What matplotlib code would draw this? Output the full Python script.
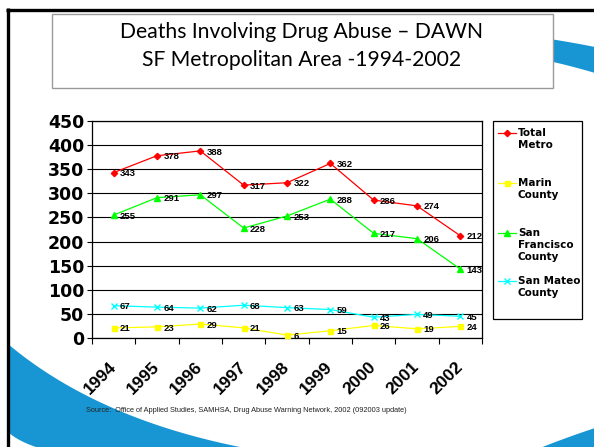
import numpy as np
import matplotlib
matplotlib.use("Agg")
import matplotlib.pyplot as plt
from matplotlib.lines import Line2D
from matplotlib.patches import Rectangle, Polygon
from matplotlib.transforms import ScaledTranslation

# ---------------- data ----------------
years = ["1994", "1995", "1996", "1997", "1998", "1999", "2000", "2001", "2002"]
total_metro = [343, 378, 388, 317, 322, 362, 286, 274, 212]
marin = [21, 23, 29, 21, 6, 15, 26, 19, 24]
san_francisco = [255, 291, 297, 228, 253, 288, 217, 206, 143]
san_mateo = [67, 64, 62, 68, 63, 59, 43, 49, 45]
series_names = ["Total\nMetro", "Marin\nCounty", "San\nFrancisco\nCounty", "San Mateo\nCounty"]
y_ticks = [0, 50, 100, 150, 200, 250, 300, 350, 400, 450]
title_lines = ["Deaths Involving Drug Abuse \u2013 DAWN", "SF Metropolitan Area -1994-2002"]
source_text = "Source:  Office of Applied Studies, SAMHSA, Drug Abuse Warning Network, 2002 (092003 update)"

W, H = 594, 447
DPI = 100
fig = plt.figure(figsize=(W / DPI, H / DPI), dpi=DPI)
fig.patch.set_facecolor("white")

# ---------- background / decoration axes in pixel coords ----------
bg = fig.add_axes([0, 0, 1, 1], zorder=0)
bg.set_xlim(0, W)
bg.set_ylim(H, 0)
bg.axis("off")

BLUE = "#1796D3"

def qbez(p0, c, p2, n=60):
    t = np.linspace(0, 1, n)[:, None]
    p0, c, p2 = map(np.asarray, (p0, c, p2))
    return (1 - t) ** 2 * p0 + 2 * (1 - t) * t * c + t ** 2 * p2

# bottom-left band
top_edge = qbez((8, 344), (96, 418), (240, 447))
low_edge = qbez((8, 432), (18, 441), (36, 447))
poly = np.vstack([top_edge, [[36, 448]], low_edge[::-1]])
bg.add_patch(Polygon(poly, closed=True, facecolor=BLUE, edgecolor="none", zorder=1))
# bottom-right swoosh
br = qbez((540, 448), (565, 438), (595, 428))
bg.add_patch(Polygon(np.vstack([br, [[595, 448]]]), closed=True, facecolor=BLUE,
                     edgecolor="none", zorder=1))
# top-right band
tr_top = qbez((530, 36), (565, 41), (595, 47))
tr_bot = qbez((530, 57), (565, 64), (595, 73))
bg.add_patch(Polygon(np.vstack([tr_top, tr_bot[::-1]]), closed=True, facecolor=BLUE,
                     edgecolor="none", zorder=1))

# slide borders
bg.plot([6, W], [9.5, 9.5], color="black", lw=2.4, solid_capstyle="butt", zorder=5)
bg.plot([7.5, 7.5], [8.3, H], color="black", lw=2.4, solid_capstyle="butt", zorder=5)

# title box
bg.add_patch(Rectangle((52, 14), 501, 74, facecolor="white", edgecolor="#9A9A9A",
                       lw=1.0, zorder=3))
bg.text(302, 32, title_lines[0], ha="center", va="center", fontsize=15.2,
        family="Lato", color="black", zorder=4)
bg.text(302, 60, title_lines[1], ha="center", va="center", fontsize=15.2,
        family="Lato", color="black", zorder=4)

# source
bg.text(86, 411, source_text, ha="left", va="center", fontsize=5.35,
        family="Liberation Sans", color="#222222", zorder=4)

# ---------------- main chart ----------------
x0, x1, ytop, ybot = 92, 482, 121, 338
ax = fig.add_axes([x0 / W, 1 - ybot / H, (x1 - x0) / W, (ybot - ytop) / H], zorder=2)
ax.set_facecolor("white")

n = len(years)
xs = np.arange(n)
styles = [
    (total_metro, "#FF0000", "D", 3.2),
    (marin, "#FFFF00", "s", 3.6),
    (san_francisco, "#00FF00", "^", 4.2),
    (san_mateo, "#00FFFF", "x", 4.2),
]
for vals, col, mk, ms in styles:
    ax.plot(xs, vals, color=col, lw=0.9, marker=mk, ms=ms, mfc=col, mec=col, mew=1.0,
            zorder=3, clip_on=False)
    for xi, v in zip(xs, vals):
        ax.annotate(str(v), (xi, v), xytext=(4.5, -0.8), textcoords="offset points",
                    ha="left", va="center", fontsize=6.8, fontweight="bold",
                    family="Liberation Sans", color="black", zorder=4)

ax.set_xlim(-0.5, n - 0.5)
ax.set_ylim(0, 450)
ax.set_yticks(y_ticks)
ax.set_yticklabels([str(t) for t in y_ticks], fontsize=12.5, fontweight="bold",
                   family="DejaVu Sans")
ax.yaxis.grid(True, color="black", lw=0.8)
ax.set_axisbelow(True)
ax.set_xticks(np.arange(n + 1) - 0.5)
ax.set_xticklabels([""] * (n + 1))
ax.set_xticks(xs, minor=True)
ax.set_xticklabels(years, minor=True, rotation=45, ha="right", va="center",
                   rotation_mode="anchor", fontsize=12.5, fontweight="bold",
                   family="Liberation Sans")
shift = ScaledTranslation(-4 / DPI, -4 / DPI, fig.dpi_scale_trans)
for lab in ax.get_xticklabels(minor=True):
    lab.set_transform(lab.get_transform() + shift)
ax.tick_params(axis="x", which="major", length=4, width=0.8, direction="out", color="black")
ax.tick_params(axis="x", which="minor", length=0, pad=19)
ax.tick_params(axis="y", length=3.5, width=0.8, direction="out", pad=2)
for s in ax.spines.values():
    s.set_color("black")
    s.set_linewidth(0.9)

# ---------------- legend (manual, evenly spaced like the original) ----------------
bg.add_patch(Rectangle((493, 121), 89, 198, facecolor="white", edgecolor="black",
                       lw=0.9, zorder=3))
entry_tops = [133, 183, 233, 281]
for (vals, col, mk, ms), name, yy in zip(styles, series_names, entry_tops):
    bg.add_line(Line2D([498, 516], [yy, yy], color=col, lw=0.9, marker=None, zorder=4))
    bg.add_line(Line2D([507], [yy], color=col, marker=mk, ms=ms, mfc=col, mec=col,
                       mew=1.0, zorder=4))
    bg.text(518, yy - 5.5, name, ha="left", va="top", fontsize=7.5, fontweight="bold",
            family="DejaVu Sans", linespacing=1.3, zorder=4)

fig.savefig("out.png", dpi=DPI, facecolor="white")
